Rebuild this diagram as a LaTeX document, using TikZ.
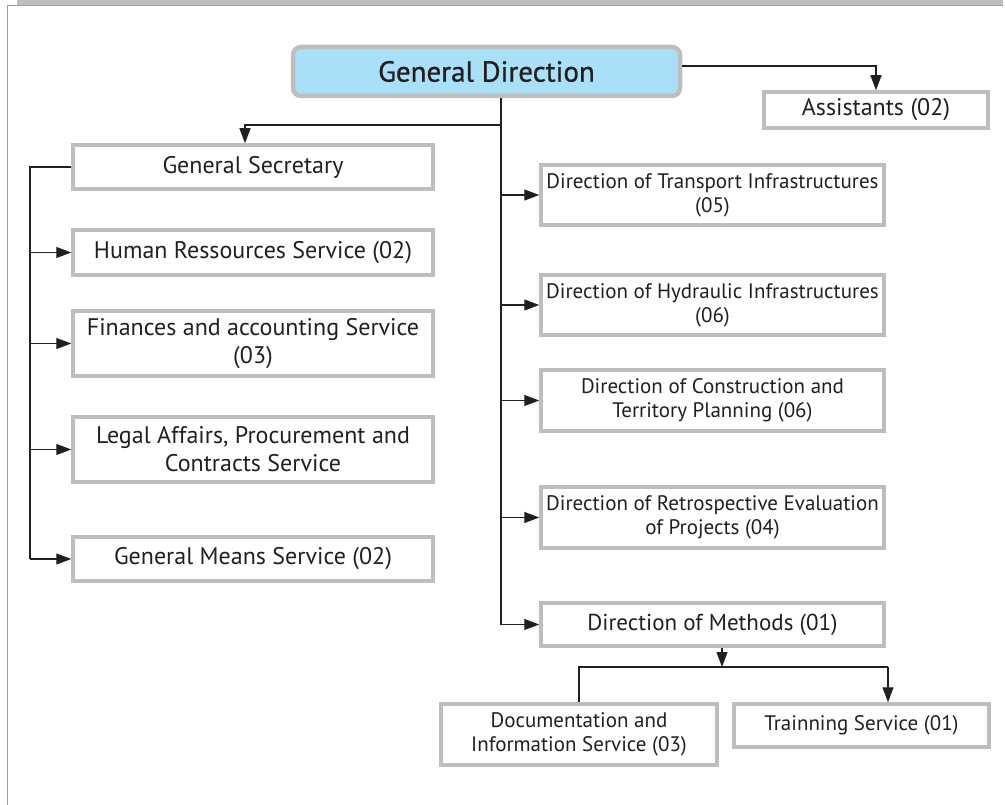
\documentclass[tikz,border=0pt]{standalone}
\usepackage{fontspec}
\setmainfont{PT Sans}
\newfontfamily\headfont[FakeBold=0.8]{PT Sans}
\usetikzlibrary{arrows.meta,positioning}
\definecolor{ocGray}{HTML}{BCBEC0}
\definecolor{ocEdge}{HTML}{9D9FA2}
\definecolor{ocInk}{HTML}{231F20}
\definecolor{ocSky}{HTML}{AADFF8}
\tikzset{
  unit/.style={draw=ocGray, line width=3.5pt, fill=white, inner sep=2pt, align=center, text=ocInk, font=\fontsize{24}{28}\selectfont},
  unitR/.style={unit, font=\fontsize{21}{24}\selectfont},
  head/.style={unit, fill=ocSky, rounded corners=8pt, line width=4.5pt, font=\headfont\fontsize{29}{32}\selectfont},
  arr/.style={-{Triangle[length=15pt,width=11pt]}, line width=1.1pt, draw=ocInk},
  lnk/.style={line width=1.1pt, draw=ocInk},
}
\begin{document}
\begin{tikzpicture}[x=1pt, y=-1pt]
  \useasboundingbox (0,0) rectangle (1005,805);
  % page frame
  \fill[ocGray] (17,0) rectangle (1003,5);
  \draw[ocEdge, line width=1pt] (7,805) -- (7,6) -- (1003,6);

  % top
  \node[head, minimum width=387pt, minimum height=49pt] (gd) at (486.5,71.5) {General Direction};
  \node[unit, minimum width=224pt, minimum height=36pt] (asst) at (876,110) {Assistants (02)};

  % left branch
  \node[unit, minimum width=360pt, minimum height=44pt] (gs) at (253,167) {General Secretary};
  \node[unit, minimum width=360pt, minimum height=45pt] (hr) at (253,252.5) {Human Ressources Service (02)};
  \node[unit, minimum width=360pt, minimum height=65pt] (fin) at (253,343.5) {Finances and accounting Service\\(03)};
  \node[unit, minimum width=360pt, minimum height=65pt] (leg) at (253,449.5) {Legal Affairs, Procurement and\\Contracts Service};
  \node[unit, minimum width=360pt, minimum height=44pt] (gm) at (253,559) {General Means Service (02)};

  % right branch
  \node[unitR, minimum width=343pt, minimum height=60pt] (tra) at (712.5,195) {Direction of Transport Infrastructures\\(05)};
  \node[unitR, minimum width=343pt, minimum height=60pt] (hyd) at (712.5,305) {Direction of Hydraulic Infrastructures\\(06)};
  \node[unitR, minimum width=343pt, minimum height=61pt] (con) at (712.5,400.5) {Direction of Construction and\\Territory Planning (06)};
  \node[unitR, minimum width=343pt, minimum height=61pt] (ret) at (712.5,517.5) {Direction of Retrospective Evaluation\\of Projects (04)};
  \node[unit, minimum width=343pt, minimum height=43pt, font=\fontsize{23}{26}\selectfont] (meth) at (712.5,624.5) {Direction of Methods (01)};
  \node[unitR, minimum width=276pt, minimum height=61pt] (doc) at (579,734.5) {Documentation and\\Information Service (03)};
  \node[unitR, minimum width=255pt, minimum height=43pt] (trn) at (861.5,725.5) {Trainning Service (01)};

  % connectors
  \draw[arr] (gd.east |- 0,66) -| (asst.north);
  \draw[lnk] (gd.south -| 501,0) -- (meth.west -| 501,0);
  \draw[arr] (501,125) -| (gs.north -| 245,0);
  \foreach \n in {tra,hyd,con,ret,meth}
    \draw[arr] (\n.west -| 501,0) -- (\n.west);
  \draw[lnk] (gs.west) -| (gm.west -| 30,0);
  \foreach \n in {hr,fin,leg,gm}
    \draw[arr] (\n.west -| 30,0) -- (\n.west);
  \coordinate (split) at (722,667);
  \draw[arr] (meth.south -| split) -- (split);
  \draw[lnk] (doc.north -| 579,0) |- (split) -- (888,667);
  \draw[arr] (888,667) -- (trn.north -| 888,0);
\end{tikzpicture}
\end{document}
